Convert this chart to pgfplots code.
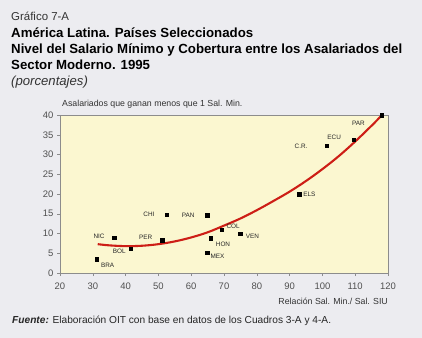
\documentclass[border=0pt]{standalone}
\usepackage{pgfplots}
\pgfplotsset{compat=1.18}
\usepackage{fontspec}
\setmainfont{Liberation Sans}
\definecolor{pagebg}{RGB}{236,236,240}
\definecolor{plotbg}{RGB}{251,247,208}
\definecolor{curvered}{RGB}{205,30,22}
\definecolor{ticktext}{RGB}{80,80,80}
\begin{document}
\begin{tikzpicture}[x=1bp,y=1bp]
\fill[pagebg] (0,0) rectangle (422,338);
\useasboundingbox (0,0) rectangle (422,338);
\node[anchor=base west,inner sep=0pt,font=\fontsize{11.5}{13}\selectfont,text=black!80] at (11,318) {Gráfico 7-A};
\node[anchor=base west,inner sep=0pt,font=\fontsize{13.3}{15}\selectfont\bfseries] at (11,301) {América Latina. Países Seleccionados};
\node[anchor=base west,inner sep=0pt,font=\fontsize{13.3}{15}\selectfont\bfseries] at (11,285) {Nivel del Salario Mínimo y Cobertura entre los Asalariados del};
\node[anchor=base west,inner sep=0pt,font=\fontsize{13.3}{15}\selectfont\bfseries] at (11,269) {Sector Moderno. 1995};
\node[anchor=base west,inner sep=0pt,font=\fontsize{13.2}{15}\selectfont\itshape,text=black!80] at (11,253) {(porcentajes)};
\node[anchor=base west,inner sep=0pt,font=\fontsize{8.8}{10}\selectfont,text=black!80] at (62,232) {Asalariados que ganan menos que 1 Sal. Min.};
\node[anchor=base east,inner sep=0pt,font=\fontsize{8.8}{10}\selectfont,text=black!80] at (388,34) {Relación Sal. Min./ Sal. SIU};
\node[anchor=base west,inner sep=0pt,font=\fontsize{10.2}{12}\selectfont,text=black!85] at (12,15) {\textbf{\textit{Fuente:}} Elaboración OIT con base en datos de los Cuadros 3-A y 4-A.};
\begin{axis}[
  at={(60bp,65bp)}, anchor=south west,
  scale only axis, width=328bp, height=158bp,
  xmin=20, xmax=120, ymin=0, ymax=40,
  xtick={20,30,...,120}, ytick={0,5,...,40},
  axis background/.style={fill=plotbg},
  axis line style={black!45, line width=0.5pt},
  tick style={black!45, line width=0.5pt},
  tick align=outside, major tick length=3bp,
  xtick pos=bottom, ytick pos=left,
  tick label style={font=\fontsize{9.5}{11}\selectfont, text=ticktext},
  /pgf/number format/assume math mode=true,
  xticklabel style={yshift=-3bp},
  clip=false,
]
\addplot[curvered, line width=2.1pt, smooth, tension=0.6] coordinates {
  (31.5,7.3) (35,7.0) (40,6.8) (45,6.9) (50,7.3) (55,8.0) (60,9.0) (65,10.3)
  (70,12.0) (75,13.8) (80,15.9) (85,18.2) (90,20.6) (95,23.3) (100,26.3)
  (105,29.6) (110,33.3) (115,37.3) (118.2,40.0)
};
\addplot[only marks, mark=square*, mark size=1.8bp, black] coordinates {
  (31.2,3.5) (36.5,8.9) (41.6,6.2) (51.2,8.3) (52.5,14.8) (64.8,14.6)
  (64.8,5.1) (65.9,8.8) (69.3,11.0) (74.9,9.9) (93.0,19.9) (101.3,32.2)
  (109.6,33.7) (118.1,40.0)
};
\begin{scope}[every node/.style={font=\fontsize{6.4}{7}\selectfont, text=black!85, inner sep=0pt}]
\node at (axis cs:34.5,1.85) {BRA};
\node at (axis cs:31.9,9.4) {NIC};
\node at (axis cs:38.1,5.4) {BOL};
\node at (axis cs:46.1,9.0) {PER};
\node at (axis cs:47.1,14.9) {CHI};
\node at (axis cs:59.1,14.6) {PAN};
\node at (axis cs:68.0,4.1) {MEX};
\node at (axis cs:69.7,7.2) {HON};
\node at (axis cs:72.8,11.7) {COL};
\node at (axis cs:78.7,9.2) {VEN};
\node at (axis cs:96.0,19.8) {ELS};
\node at (axis cs:93.5,32.0) {C.R.};
\node at (axis cs:103.6,34.3) {ECU};
\node at (axis cs:111.0,37.9) {PAR};
\end{scope}
\end{axis}
\end{tikzpicture}
\end{document}
